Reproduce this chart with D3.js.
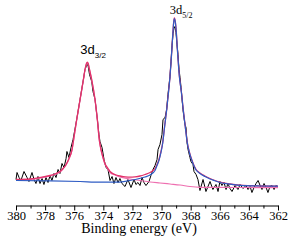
<!DOCTYPE html>
<html>
<head>
<meta charset="utf-8">
<script src="https://cdn.jsdelivr.net/npm/d3@7"></script>
<style>
  body { margin: 0; background: #fff; }
  svg { display: block; }
</style>
</head>
<body>
<div id="chart"></div>
<script>
// measured spectrum: [binding energy (eV), intensity (a.u.)]
const spectrum = [
  [380.00, 26], [379.93, 33], [379.79, 28], [379.66, 25], [379.45, 34], [379.24, 28],
  [379.11, 24], [378.90, 33], [378.76, 26], [378.63, 22], [378.49, 29], [378.35, 22],
  [378.21, 27], [378.08, 21], [377.94, 28], [377.80, 23], [377.66, 30], [377.53, 25],
  [377.39, 32], [377.25, 28], [377.11, 36], [376.98, 32], [376.84, 42], [376.70, 38],
  [376.56, 47], [376.50, 54], [376.36, 48], [376.22, 58], [376.08, 66], [375.83, 86],
  [375.60, 106], [375.37, 126], [375.26, 136], [375.12, 141], [375.05, 140], [374.95, 131],
  [374.80, 124], [374.71, 114], [374.57, 106], [374.41, 86], [374.30, 71], [374.23, 64],
  [374.09, 58], [373.95, 46], [373.82, 38], [373.68, 36], [373.54, 25], [373.40, 29],
  [373.27, 22], [373.13, 28], [372.99, 23], [372.86, 27], [372.72, 22], [372.51, 19],
  [372.31, 26], [372.10, 18], [371.89, 26], [371.76, 21], [371.62, 23], [371.48, 20],
  [371.34, 28], [371.21, 23], [371.07, 20], [370.86, 24], [370.73, 30], [370.59, 36],
  [370.45, 40], [370.31, 46], [370.24, 56], [370.11, 61], [369.97, 71], [369.90, 86],
  [369.76, 88], [369.65, 96], [369.56, 111], [369.42, 129], [369.35, 144], [369.28, 160],
  [369.21, 172], [369.15, 177], [369.08, 179], [369.01, 173], [368.94, 161], [368.87, 151],
  [368.80, 136], [368.73, 128], [368.66, 118], [368.60, 108], [368.53, 96], [368.46, 88],
  [368.39, 81], [368.32, 78], [368.25, 63], [368.18, 56], [368.05, 48], [367.98, 44],
  [367.84, 41], [367.77, 34], [367.63, 31], [367.50, 26], [367.36, 15], [367.15, 26],
  [366.95, 14], [366.67, 24], [366.47, 16], [366.26, 21], [366.12, 14], [365.99, 24],
  [365.85, 20], [365.71, 23], [365.57, 16], [365.44, 22], [365.30, 17], [365.16, 14],
  [364.95, 20], [364.75, 16], [364.61, 21], [364.41, 17], [364.20, 20], [364.06, 16],
  [363.92, 19], [363.79, 13], [363.65, 18], [363.51, 22], [363.37, 25], [363.17, 18],
  [363.10, 16], [362.96, 22], [362.82, 18], [362.69, 13], [362.55, 19], [362.41, 20],
  [362.27, 16], [362.14, 20], [362.00, 18]
];

// fitted envelope (sum of components)
const envelope = [
  [380.00, 26], [379.04, 26.5], [378.35, 28], [377.66, 30], [377.25, 32], [376.98, 34],
  [376.77, 37], [376.56, 41], [376.36, 47], [376.15, 56], [376.02, 68], [375.83, 86],
  [375.60, 106], [375.37, 126], [375.26, 136], [375.16, 142], [375.10, 143.3], [375.04, 142],
  [374.95, 136], [374.80, 126], [374.57, 106], [374.41, 86], [374.28, 66], [374.16, 56],
  [374.02, 48], [373.89, 42], [373.68, 37], [373.54, 34], [373.20, 31], [372.86, 29.5],
  [372.51, 28.7], [372.17, 28.3], [371.82, 28.7], [371.48, 29.5], [371.14, 31], [370.79, 33],
  [370.59, 35], [370.45, 37], [370.31, 41], [370.18, 46], [370.04, 54], [369.92, 63],
  [369.80, 78], [369.65, 96], [369.52, 114], [369.42, 129.3], [369.32, 150], [369.23, 171],
  [369.17, 183], [369.12, 187.5], [369.06, 184.5], [369.01, 178], [368.91, 156], [368.78, 130],
  [368.64, 114], [368.51, 96], [368.37, 79], [368.23, 63], [368.08, 53], [367.93, 46],
  [367.77, 40], [367.63, 36], [367.36, 32.5], [367.02, 29.5], [366.67, 27], [366.33, 25],
  [365.99, 23.3], [365.30, 21.5], [364.61, 20.3], [363.24, 19.5], [362.00, 19.3]
];

// 3d5/2 component (with background)
const comp52 = [
  [380.00, 25], [377.66, 24.7], [375.60, 24], [374.23, 23.3], [373.20, 23.3], [372.51, 24.2],
  [371.82, 26], [371.14, 28.5], [370.79, 30.5], [370.45, 35], [370.31, 40], [370.18, 45],
  [370.04, 53], [369.92, 62.5], [369.80, 77.5], [369.65, 95.5], [369.52, 113.5], [369.42, 129],
  [369.32, 149.5], [369.23, 170.5], [369.17, 182.5], [369.12, 187], [369.06, 184],
  [369.01, 177.5], [368.91, 155.5], [368.78, 129.5], [368.64, 113.5], [368.51, 95.5],
  [368.37, 78.5], [368.23, 62.5], [368.08, 52.5], [367.93, 45.5], [367.77, 39.5], [367.63, 35.5],
  [367.36, 32], [367.02, 29], [366.67, 26.5], [366.33, 24.7], [365.99, 23], [365.30, 21.3],
  [364.61, 20.2], [363.24, 19.5], [362.00, 19.3]
];

// 3d3/2 component (with background)
const comp32 = [
  [380.00, 25.5], [379.04, 26], [378.35, 27.5], [377.66, 29.5], [377.25, 31.5], [376.98, 33.5],
  [376.77, 36.5], [376.56, 40.5], [376.36, 46.5], [376.15, 55.5], [376.02, 67.5], [375.83, 85.5],
  [375.60, 105.5], [375.37, 125.5], [375.26, 135.5], [375.16, 141.5], [375.10, 142.8],
  [375.04, 141.5], [374.95, 135.5], [374.80, 125.5], [374.57, 105.5], [374.41, 85.5],
  [374.28, 65.5], [374.16, 55.5], [374.02, 47.5], [373.89, 41.5], [373.68, 36], [373.54, 33],
  [373.20, 30.5], [372.86, 28.5], [372.17, 26.5], [371.48, 25], [370.79, 23.5], [370.11, 22.5],
  [369.42, 21.5], [368.73, 20.5], [368.05, 19], [367.36, 18.2], [364.61, 18], [362.00, 17.8]
];

const majorTicks = [380, 378, 376, 374, 372, 370, 368, 366, 364, 362];
const minorTicks = [379, 377, 375, 373, 371, 369, 367, 365, 363];
const peakLabels = [
  { main: "3d", sub: "3/2", energy: 375.10, height: 143.3, font: "Liberation Sans, Arial, sans-serif" },
  { main: "3d", sub: "5/2", energy: 369.12, height: 187.5, font: "Liberation Serif, Times New Roman, serif" }
];

function drawChart() {
  const width = 297;
  const height = 247;

  const svg = d3.select("#chart")
    .append("svg")
    .attr("width", width)
    .attr("height", height);

  const xScale = d3.scaleLinear()
    .domain([380, 362])
    .range([16, 278]);

  const yScale = d3.scaleLinear()
    .domain([0, 200])
    .range([205.5, 5.5]);

  const line = d3.line()
    .x((d) => xScale(d[0]))
    .y((d) => yScale(d[1]));

  const smooth = d3.line()
    .x((d) => xScale(d[0]))
    .y((d) => yScale(d[1]))
    .curve(d3.curveMonotoneX);

  // raw data
  svg.append("path")
    .datum(spectrum)
    .attr("fill", "none")
    .attr("stroke", "#000")
    .attr("stroke-width", 1)
    .attr("stroke-linejoin", "round")
    .attr("d", line);

  // fitted curves
  svg.append("path")
    .datum(comp32)
    .attr("fill", "none")
    .attr("stroke", "#ee6fb0")
    .attr("stroke-width", 1.2)
    .attr("d", smooth);

  svg.append("path")
    .datum(envelope)
    .attr("fill", "none")
    .attr("stroke", "#e2336a")
    .attr("stroke-width", 1.3)
    .attr("d", smooth);

  svg.append("path")
    .datum(comp52)
    .attr("fill", "none")
    .attr("stroke", "#2f5cc4")
    .attr("stroke-width", 1.2)
    .attr("d", smooth);

  // axis: minor ticks then major ticks with labels
  const axisY = yScale(0);

  svg.append("g")
    .attr("transform", `translate(0,${axisY})`)
    .call(d3.axisBottom(xScale).tickValues(minorTicks).tickSize(3).tickFormat(""))
    .call((g) => g.select(".domain").remove());

  const xAxis = svg.append("g")
    .attr("transform", `translate(0,${axisY})`)
    .call(d3.axisBottom(xScale).tickValues(majorTicks).tickSize(5).tickSizeOuter(0).tickFormat(d3.format("d")));

  xAxis.selectAll("text")
    .attr("y", 14)
    .attr("dy", 0)
    .attr("fill", "#000")
    .style("font-family", "Liberation Serif, Times New Roman, serif")
    .style("font-size", "12.5px");

  svg.append("text")
    .attr("x", 139)
    .attr("y", 233)
    .attr("text-anchor", "middle")
    .style("font-family", "Liberation Serif, Times New Roman, serif")
    .style("font-size", "14px")
    .text("Binding energy (eV)");

  // peak labels, sitting just above each peak top
  peakLabels.forEach((p, i) => {
    const t = svg.append("text")
      .attr("x", xScale(p.energy) - (i === 0 ? 7 : 4.5))
      .attr("y", yScale(p.height) - (i === 0 ? 8 : 4))
      .style("font-family", p.font)
      .style("font-size", i === 0 ? "13px" : "12.5px")
      .attr("fill", "#000");
    t.append("tspan").text(p.main);
    t.append("tspan")
      .attr("dy", 4)
      .style("font-size", "8px")
      .text(p.sub);
  });
}

drawChart();
</script>
</body>
</html>
